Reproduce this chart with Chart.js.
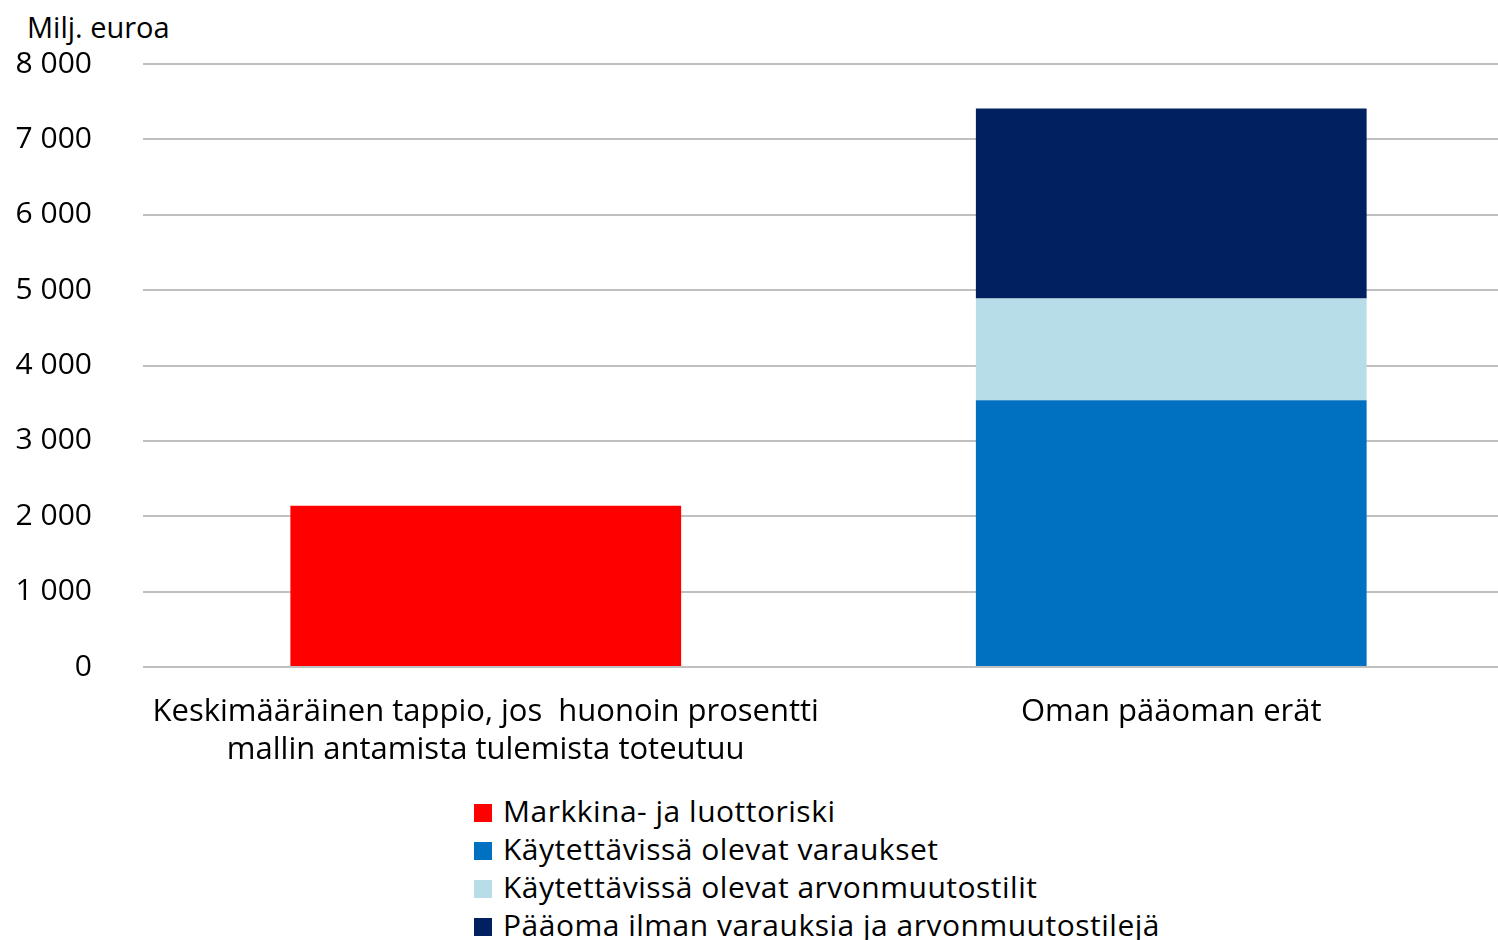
<!DOCTYPE html>
<html>
<head>
<meta charset="utf-8">
<script src="https://cdn.jsdelivr.net/npm/chart.js@4/dist/chart.umd.min.js"></script>
<style>
  body { margin: 0; background: #fff; font-family: "Open Sans", sans-serif; }
  #wrap { position: relative; width: 1498px; height: 940px; overflow: hidden; }
  #unit { position: absolute; left: 27px; top: 7px; font-size: 29px; color: #000; }
  #chart-box { position: absolute; left: 0; top: 0; width: 1514px; height: 780px; }
  #legend { position: absolute; left: 474px; top: 792px; list-style: none; margin: 0; padding: 0; }
  #legend li { height: 38px; line-height: 38px; font-size: 30px; letter-spacing: 0.5px; color: #000; white-space: nowrap; }
  #legend .box { display: inline-block; width: 18px; height: 18px; margin-right: 11px; vertical-align: 0px; }
</style>
</head>
<body>
<div id="wrap">
  <div id="unit">Milj. euroa</div>
  <div id="chart-box"><canvas id="chart"></canvas></div>
  <ul id="legend"></ul>
</div>
<script>
// categories on the x axis (first one wraps on two lines)
const categories = [
  ['Keskimääräinen tappio, jos  huonoin prosentti', 'mallin antamista tulemista toteutuu'],
  'Oman pääoman erät'
];

// series, million euros
const seriesNames = [
  'Markkina- ja luottoriski',
  'Käytettävissä olevat varaukset',
  'Käytettävissä olevat arvonmuutostilit',
  'Pääoma ilman varauksia ja arvonmuutostilejä'
];
const marketCreditRisk = [2140, null];
const provisions = [null, 3540];
const revaluationAccounts = [null, 1350];
const capitalOther = [null, 2520];

const yTicks = [0, 1000, 2000, 3000, 4000, 5000, 6000, 7000, 8000];

// red, blue, light blue, navy
const colors = ['#ff0000', '#0070c0', '#b7dee8', '#002060'];

const seriesData = [marketCreditRisk, provisions, revaluationAccounts, capitalOther];

const fmt = v => String(v).replace(/\B(?=(\d{3})+(?!\d))/g, ' ');

const chart = new Chart(document.getElementById('chart'), {
  type: 'bar',
  data: {
    labels: categories,
    datasets: seriesData.map((d, i) => ({
      label: seriesNames[i],
      data: d,
      backgroundColor: colors[i],
      borderWidth: 0,
      categoryPercentage: 0.57,
      barPercentage: 1
    }))
  },
  options: {
    responsive: true,
    maintainAspectRatio: false,
    animation: false,
    layout: { padding: { top: 64, left: 0, right: 0, bottom: 0 } },
    plugins: {
      legend: { display: false },
      tooltip: { enabled: false }
    },
    scales: {
      x: {
        stacked: true,
        grid: { display: false, drawTicks: false },
        border: { display: false },
        ticks: {
          color: '#000',
          padding: 26,
          maxRotation: 0,
          autoSkip: false,
          font: { family: 'Open Sans', size: 31, lineHeight: 1.226 }
        },
        afterFit: scale => { scale.height = 113; }
      },
      y: {
        stacked: true,
        min: 0,
        max: 8000,
        afterBuildTicks: scale => { scale.ticks = yTicks.map(v => ({ value: v })); },
        grid: { color: '#c0c0c0', lineWidth: 2, drawTicks: false },
        border: { display: false },
        ticks: {
          color: '#000',
          padding: 51,
          font: { family: 'Open Sans', size: 30 },
          callback: v => fmt(v)
        },
        // fixed axis width, and no extra room for the top/bottom labels
        afterFit: scale => {
          scale.width = 143;
          scale.paddingTop = 0;
          scale.paddingBottom = 0;
        }
      }
    }
  }
});

// vertical legend like the original
const legend = document.getElementById('legend');
chart.data.datasets.forEach(ds => {
  const li = document.createElement('li');
  li.innerHTML = '<span class="box" style="background-color:' + ds.backgroundColor + ';"></span>' + ds.label;
  legend.appendChild(li);
});
</script>
</body>
</html>
